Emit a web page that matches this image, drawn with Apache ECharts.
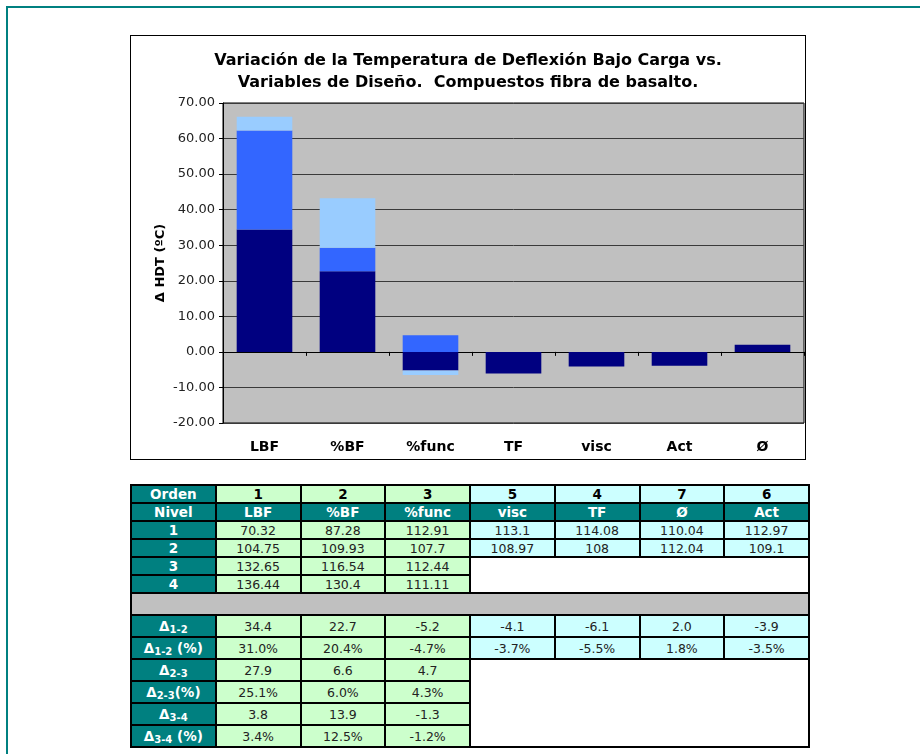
<!DOCTYPE html>
<html>
<head>
<meta charset="utf-8">
<script src="https://cdn.jsdelivr.net/npm/echarts@6/dist/echarts.min.js"></script>
<style>
  html, body { margin: 0; padding: 0; background: #fff; width: 920px; height: 754px; overflow: hidden; }
  #frame { position: absolute; left: 6px; top: 6px; width: 960px; height: 800px; border-left: 2px solid #008080; border-top: 2px solid #008080; }
  #chart { position: absolute; left: 130px; top: 35px; width: 676px; height: 425px; border: 1px solid #000; box-sizing: border-box; }
  #tbl { position: absolute; left: 130px; top: 484px; width: 678px; border-collapse: collapse; table-layout: fixed;
         font-family: "DejaVu Sans", Verdana, sans-serif; font-size: 12.5px; color: #222; }
  #tbl td { border: 2px solid #000; text-align: center; padding: 0; height: 16px; line-height: 15px; overflow: hidden; white-space: nowrap; }
  #tbl td.h { background: #008080; color: #fff; font-weight: bold; font-size: 13.5px; }
  #tbl td.g { background: #CCFFCC; }
  #tbl td.c { background: #CCFFFF; }
  #tbl td.gb { background: #CCFFCC; font-weight: bold; color: #000; font-size: 13.5px; }
  #tbl td.cb { background: #CCFFFF; font-weight: bold; color: #000; font-size: 13.5px; }
  #tbl td.w { background: #fff; }
  #tbl td.sep { background: #C0C0C0; height: 20px; }
  #tbl tr.d td { height: 20px; }
  #tbl sub { font-size: 10px; vertical-align: -2px; line-height: 0; }
</style>
</head>
<body>
<div id="frame"></div>
<div id="chart"></div>
<table id="tbl"></table>
<script>
// ---- data ----
const tableVars = ['LBF', '%BF', '%func', 'visc', 'TF', 'Ø', 'Act'];
const orden = [1, 2, 3, 5, 4, 7, 6];
const nivel1 = [70.32, 87.28, 112.91, 113.1, 114.08, 110.04, 112.97];
const nivel2 = [104.75, 109.93, 107.7, 108.97, 108, 112.04, 109.1];
const nivel3 = [132.65, 116.54, 112.44];
const nivel4 = [136.44, 130.4, 111.11];
const delta12 = [34.4, 22.7, -5.2, -4.1, -6.1, 2.0, -3.9];
const delta12pct = [31.0, 20.4, -4.7, -3.7, -5.5, 1.8, -3.5];
const delta23 = [27.9, 6.6, 4.7];
const delta23pct = [25.1, 6.0, 4.3];
const delta34 = [3.8, 13.9, -1.3];
const delta34pct = [3.4, 12.5, -1.2];

const chartCats = ['LBF', '%BF', '%func', 'TF', 'visc', 'Act', 'Ø'];
const yTicks = { min: -20, max: 70, interval: 10 };

// ---- chart ----
function pick(arr) {
  return chartCats.map(c => {
    const i = tableVars.indexOf(c);
    return (i < arr.length) ? arr[i] : null;
  });
}
const font = '"DejaVu Sans", Verdana, sans-serif';
const chart = echarts.init(document.getElementById('chart'), null, { renderer: 'canvas' });
chart.setOption({
  backgroundColor: '#fff',
  animation: false,
  title: {
    text: 'Variación de la Temperatura de Deflexión Bajo Carga vs.\nVariables de Diseño.  Compuestos fibra de basalto.',
    left: 'center', top: 9,
    textStyle: { fontFamily: font, fontWeight: 'bold', fontSize: 16, lineHeight: 22, color: '#000' }
  },
  grid: { left: 92, right: 1, top: 67, bottom: 36, show: true, backgroundColor: '#C0C0C0', borderColor: '#000', borderWidth: 1 },
  xAxis: [
    {
      type: 'category', data: chartCats, position: 'bottom',
      axisLine: { show: false, onZero: false }, axisTick: { show: false },
      axisLabel: { fontFamily: font, fontWeight: 'bold', fontSize: 14, color: '#000', margin: 17 }
    },
    {
      type: 'category', data: chartCats, position: 'top',
      axisLine: { show: true, onZero: true, lineStyle: { color: '#000', width: 1 } },
      axisTick: { show: true, inside: true, length: 4, lineStyle: { color: '#000' } },
      axisLabel: { show: false }
    }
  ],
  yAxis: {
    type: 'value', min: yTicks.min, max: yTicks.max, interval: yTicks.interval,
    name: 'Δ HDT (ºC)', nameLocation: 'middle', nameGap: 56, nameRotate: 90, nameMoveOverlap: false,
    nameTextStyle: { fontFamily: font, fontWeight: 'bold', fontSize: 13, color: '#000' },
    axisLine: { show: true, lineStyle: { color: '#000' } },
    axisTick: { show: true, length: 4, lineStyle: { color: '#000' } },
    axisLabel: { fontFamily: font, fontSize: 13, color: '#222', margin: 8, formatter: v => v.toFixed(2) },
    splitLine: { show: true, lineStyle: { color: '#3a3a3a', width: 1 } }
  },
  series: [
    { name: 'Δ1-2', type: 'bar', stack: 'a', xAxisIndex: 0, data: pick(delta12), itemStyle: { color: '#000080' }, barCategoryGap: '33%' },
    { name: 'Δ2-3', type: 'bar', stack: 'a', xAxisIndex: 0, data: pick(delta23), itemStyle: { color: '#3366FF' } },
    { name: 'Δ3-4', type: 'bar', stack: 'a', xAxisIndex: 0, data: pick(delta34), itemStyle: { color: '#99CCFF' } }
  ]
});

// ---- table ----
const tbl = document.getElementById('tbl');
const nG = 3; // green columns (multi-level variables)
function cls(i, bold) { return (i < nG ? (bold ? 'gb' : 'g') : (bold ? 'cb' : 'c')); }
function row(label, vals, fmt, opts) {
  opts = opts || {};
  let h = '<tr' + (opts.d ? ' class="d"' : '') + '><td class="h">' + label + '</td>';
  vals.forEach((v, i) => { h += '<td class="' + (opts.allHead ? 'h' : cls(i, opts.bold)) + '">' + fmt(v) + '</td>'; });
  if (opts.blank) h += opts.blank;
  return h + '</tr>';
}
const id = v => String(v);
const f1 = v => v.toFixed(1);
const pc = v => v.toFixed(1) + '%';
let html = '<colgroup>' + '<col style="width:84.75px">'.repeat(8) + '</colgroup>';
html += row('Orden', orden, id, { bold: true });
html += row('Nivel', tableVars, id, { allHead: true });
html += row('1', nivel1, id);
html += row('2', nivel2, id);
html += row('3', nivel3, id, { blank: '<td class="w" colspan="4" rowspan="2"></td>' });
html += row('4', nivel4, id);
html += '<tr><td class="sep" colspan="8"></td></tr>';
html += row('Δ<sub>1-2</sub>', delta12, f1, { d: true });
html += row('Δ<sub>1-2</sub> (%)', delta12pct, pc, { d: true });
html += row('Δ<sub>2-3</sub>', delta23, f1, { d: true, blank: '<td class="w" colspan="4" rowspan="4"></td>' });
html += row('Δ<sub>2-3</sub>(%)', delta23pct, pc, { d: true });
html += row('Δ<sub>3-4</sub>', delta34, f1, { d: true });
html += row('Δ<sub>3-4</sub> (%)', delta34pct, pc, { d: true });
tbl.innerHTML = html;
</script>
</body>
</html>
